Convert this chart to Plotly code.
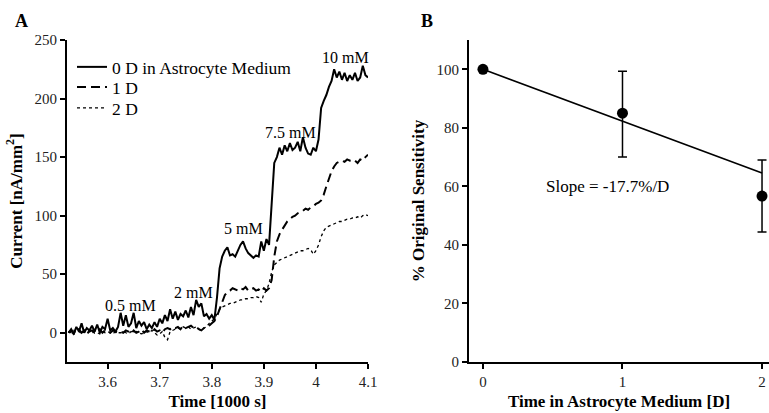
import numpy as np
import plotly.graph_objects as go

# ---------------- Panel A data ----------------
t_start, t_step, n_pts = 3.525, 0.005, 116
time_ks = [round(t_start + i * t_step, 3) for i in range(n_pts)]

current_0d = [
    0, 3, -1, 5, 1, 8, 0, 4, 2, 6,
    1, 7, 0, 5, 3, 12, 2, 4, 1, 5,
    17, 6, 15, 5, 8, 17, 4, 10, 6, 9,
    3, 7, 4, 9, 5, 12, 8, 15, 10, 20,
    12, 18, 11, 16, 14, 19, 13, 22, 15, 28,
    22, 25, 14, 16, 12, 15, 11, 30, 55, 65,
    70, 73, 66, 67, 65, 70, 75, 78, 72, 68,
    66, 64, 66, 65, 78, 70, 80, 75, 110, 145,
    150, 158, 152, 160, 155, 162, 156, 158, 163, 155,
    167, 158, 153, 152, 158, 155, 165, 192, 198, 203,
    210, 215, 225, 218, 223, 216, 222, 215, 220, 216,
    222, 215, 218, 228, 220, 218,
]
current_1d = [
    0, 2, -1, 1, 3, 0, 2, -1, 1, 2,
    0, 1, 3, 0, 2, 1, 0, 2, 1, 0,
    1, 0, 2, 1, -1, 2, 0, 1, 3, 0,
    2, 1, 0, 3, 1, 2, 0, 3, 4, 3,
    5, 4, 5, 3, 6, 4, 5, 6, 4, 5,
    3, 2, 4, 5, 6, 8, 10, 14, 20, 26,
    32, 35, 36, 38, 37, 36, 38, 37, 39, 36,
    37, 38, 36, 37, 35, 38, 36, 38, 45, 65,
    78, 84, 88, 92, 95, 97, 99, 100, 102, 103,
    104, 106, 105, 107, 108, 110, 111, 113, 118, 125,
    132, 138, 142, 145, 146, 147, 146, 148, 147, 148,
    147, 145, 148, 147, 150, 152,
]
current_2d = [
    1, 0, 2, 0, 1, -1, 1, 0, 2, 0,
    1, 0, -1, 1, 0, 1, 0, -1, 1, 0,
    0, 1, 0, -1, 1, 0, 1, 0, -1, 0,
    1, 0, 2, 0, -2, -1, 1, -4, -6, 1,
    2, 3, 4, 3, 5, 4, 5, 3, 4, 5,
    3, 2, 4, 5, 8, 10, 12, 16, 20, 22,
    23, 24, 25, 25, 26, 27, 28, 28, 29, 29,
    30, 30, 31, 30, 26, 33, 36, 42, 52, 58,
    60, 62, 63, 64, 65, 66, 67, 68, 69, 70,
    70, 71, 72, 71, 67, 70, 75, 82, 87, 90,
    91, 92, 93, 94, 95, 95, 96, 97, 97, 98,
    98, 99, 98, 100, 101, 100,
]
trace_names = ["0 D in Astrocyte Medium", "1 D", "2 D"]

conc_labels = ["0.5 mM", "2 mM", "5 mM", "7.5 mM", "10 mM"]
conc_t = [3.644, 3.764, 3.861, 3.952, 4.056]
conc_y = [23, 34, 89, 171, 235]

# ---------------- Panel B data ----------------
days = [0, 1, 2]
sensitivity = [100, 85, 56.7]
err_plus = [0, 14.3, 12.3]
err_minus = [0, 15, 12.3]
fit_days = [0, 2]
fit_vals = [100, 64.6]
slope_text = "Slope = -17.7%/D"

FONT = "Liberation Serif, Times New Roman, serif"

W, H = 769, 413


def px_x(p):
    return p / W


def px_y(p):
    return 1 - p / H


fig = go.Figure()

styles = [
    dict(color="black", width=2),
    dict(color="black", width=2, dash="9px,5px"),
    dict(color="black", width=1.3, dash="dot"),
]
legend_ids = ["legend", "legend2", "legend3"]
for name, vals, st, lg in zip(trace_names, [current_0d, current_1d, current_2d], styles, legend_ids):
    fig.add_trace(go.Scatter(x=time_ks, y=vals, mode="lines", name=name,
                             line=st, xaxis="x", yaxis="y", legend=lg))

fig.add_trace(go.Scatter(x=fit_days, y=fit_vals, mode="lines",
                         line=dict(color="black", width=1.6),
                         showlegend=False, xaxis="x2", yaxis="y2"))
fig.add_trace(go.Scatter(x=days, y=sensitivity, mode="markers",
                         marker=dict(color="black", size=11),
                         error_y=dict(type="data", array=err_plus, arrayminus=err_minus,
                                      color="black", thickness=1.5, width=4.5),
                         showlegend=False, xaxis="x2", yaxis="y2", cliponaxis=False))

annotations = []
for lab, tx, ty in zip(conc_labels, conc_t, conc_y):
    annotations.append(dict(x=tx, y=ty, xref="x", yref="y", text=lab, showarrow=False,
                            font=dict(family=FONT, size=16, color="black")))
annotations.append(dict(x=0.89, y=60, xref="x2", yref="y2", text=slope_text,
                        showarrow=False, font=dict(family=FONT, size=17, color="black")))
annotations.append(dict(x=px_x(21), y=px_y(21), xref="paper", yref="paper", text="<b>A</b>",
                        xanchor="center", yanchor="middle",
                        showarrow=False, font=dict(family=FONT, size=18, color="black")))
annotations.append(dict(x=px_x(427), y=px_y(21), xref="paper", yref="paper", text="<b>B</b>",
                        xanchor="center", yanchor="middle",
                        showarrow=False, font=dict(family=FONT, size=18, color="black")))

axis_common = dict(showline=True, linecolor="black", linewidth=2, ticks="outside",
                   ticklen=5, tickwidth=1.5, tickcolor="black", showgrid=False, zeroline=False,
                   automargin=False,
                   tickfont=dict(family=FONT, size=15, color="#222"))

title_font = dict(family=FONT, size=17, color="black")
ydom = [px_y(362), px_y(40)]

legend_rows = [67, 87, 108]
legend_common = dict(xanchor="left", yanchor="middle", bgcolor="rgba(0,0,0,0)",
                     font=dict(family=FONT, size=17.5, color="black"), itemwidth=30)

fig.update_layout(
    width=W, height=H,
    margin=dict(l=0, r=0, t=0, b=0, autoexpand=False),
    paper_bgcolor="white", plot_bgcolor="white",
    font=dict(family=FONT, color="black"),
    xaxis=dict(domain=[px_x(67), px_x(368)], range=[3.522, 4.1],
               tickvals=[3.6, 3.7, 3.8, 3.9, 4.0, 4.1],
               title=dict(text="<b>Time [1000 s]</b>", font=title_font, standoff=6),
               anchor="y", **axis_common),
    yaxis=dict(domain=ydom, range=[-25, 250], tickvals=[0, 50, 100, 150, 200, 250],
               title=dict(text="<b>Current [nA/mm<sup>2</sup>]</b>", font=title_font, standoff=8),
               anchor="x", **axis_common),
    xaxis2=dict(domain=[px_x(469), 1.0], range=[-0.1, 2.05], tickvals=[0, 1, 2],
                title=dict(text="<b>Time in Astrocyte Medium [D]</b>", font=title_font, standoff=6),
                anchor="y2", **axis_common),
    yaxis2=dict(domain=ydom, range=[0, 110], tickvals=[0, 20, 40, 60, 80, 100],
                title=dict(text="<b>% Original Sensitivity</b>", font=title_font, standoff=8),
                anchor="x2", **axis_common),
    legend=dict(x=px_x(72), y=px_y(legend_rows[0]), **legend_common),
    legend2=dict(x=px_x(72), y=px_y(legend_rows[1]), **legend_common),
    legend3=dict(x=px_x(72), y=px_y(legend_rows[2]), **legend_common),
    annotations=annotations,
    showlegend=True,
)

fig.write_html(
    "out.html",
    config={"displayModeBar": False},
    post_script="document.body.style.margin='0';document.body.style.overflow='hidden';",
)
